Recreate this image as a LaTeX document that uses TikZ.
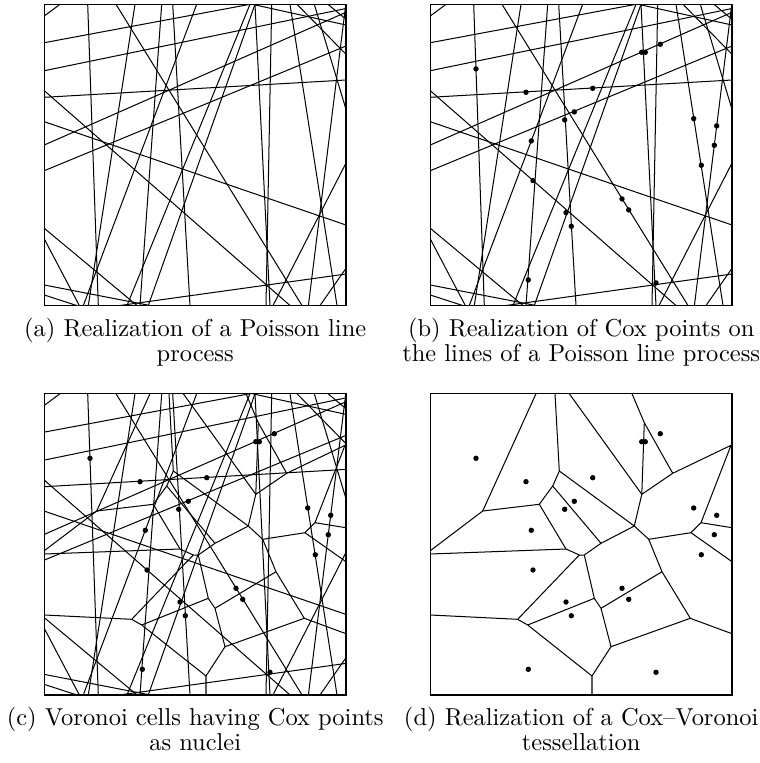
\documentclass[tikz,border=0pt]{standalone}
\begin{document}
\begin{tikzpicture}[x=0.4444pt,y=-0.4444pt,
  pl/.style={line width=0.45pt},
  vo/.style={line width=0.45pt,line join=round},
  frame/.style={line width=0.6pt},
  cox/.style={fill=black},
  captxt/.style={inner sep=0pt,anchor=base,font=\fontsize{10.87}{11.1}\selectfont}]
\useasboundingbox (0,0) rectangle (760,763);
\newcommand\plinesX{%
  \draw[pl] (0,11.7)--(15.7,0);
  \draw[pl] (43.4,0)--(54,301.2);
  \draw[pl] (71.7,0)--(257.7,301.2);
  \draw[pl] (0,93)--(301.7,75.7);
  \draw[pl] (0,86.4)--(245.7,301.2);
  \draw[pl] (0,38.4)--(205.7,0);
  \draw[pl] (90.7,0)--(44,301.2);
  \draw[pl] (117.4,0)--(95.7,301.2);
  \draw[pl] (128.4,0)--(145.7,301.2);
  \draw[pl] (0,166.4)--(301.7,41.7);
  \draw[pl] (152.4,0)--(39,301.2);
  \draw[pl] (210.7,0)--(104,301.2);
  \draw[pl] (205.7,0)--(82.7,301.2);
  \draw[pl] (75.7,301.2)--(301.7,269.7);
  \draw[pl] (0,280.7)--(105.7,301.2);
  \draw[pl] (0,290.7)--(32.4,301.2);
  \draw[pl] (0,224)--(92.7,301.2);
  \draw[pl] (0,234.7)--(35,301.2);
  \draw[pl] (0,117.4)--(301.7,220.7);
  \draw[pl] (0,140.7)--(301.7,8);
  \draw[pl] (0,66.4)--(301.7,4.2);
  \draw[pl] (210.7,0)--(225.7,301.2);
  \draw[pl] (227.4,0)--(221.7,301.2);
  \draw[pl] (245.7,0)--(292.7,301.2);
  \draw[pl] (301.5,0)--(264.1,301.2);
  \draw[pl] (301.7,158.7)--(228.7,301.2);
  \draw[pl] (275.7,301.2)--(301.7,264);
  \draw[pl] (208,0)--(301.7,20.7);
  \draw[pl] (252.7,0)--(301.7,50);
  \draw[pl] (270,0)--(301.7,105);
  \draw[pl] (283.7,0)--(301.7,15);
}
\newcommand\voronoiX{%
  \draw[vo] (105.7,0)--(52.4,117.3)--(0,157);
  \draw[vo] (52.4,117.3)--(109,110.6);
  \draw[vo] (124.7,0)--(129,77.3)--(122.4,92.3)--(109,110.6)--(135.7,155.3);
  \draw[vo] (129,77.3)--(204,132.3);
  \draw[vo] (122.4,92.3)--(170.7,149.6);
  \draw[vo] (0,160.3)--(135.7,155.3)--(149,161.3)--(154,161.3)--(170.7,149.6)--(204,132.3);
  \draw[vo] (149,161.3)--(87.4,225.6)--(97.4,231.3);
  \draw[vo] (0,221.3)--(87.4,225.6);
  \draw[vo] (154,161.3)--(164,204.6)--(170.7,214.6)--(180.7,253)--(161.7,282.3)--(161.7,302);
  \draw[vo] (97.4,231.3)--(164,204.6);
  \draw[vo] (97.4,231.3)--(161.7,282.3);
  \draw[vo] (170.7,214.6)--(231.7,178)--(218.4,145.6)--(204,132.3);
  \draw[vo] (180.7,253)--(260,224.6)--(231.7,178);
  \draw[vo] (260,224.6)--(301.7,240);
  \draw[vo] (218.4,145.6)--(260.7,139)--(301.7,168);
  \draw[vo] (260.7,139)--(270.7,129)--(301.7,134);
  \draw[vo] (270.7,129)--(300.7,51.6)--(242.4,79.6)--(214,29)--(201.7,0);
  \draw[vo] (214,29)--(211.5,100.6)--(242.4,79.6);
  \draw[vo] (139,0)--(211.5,100.6)--(204,132.3);
}
\newcommand\coxpointsX{%
  \foreach \p in {(45.7,64.6),(95.7,88),(144,107.6),(134.4,115.6),(101,136.6),
    (230,40),(211.4,48),(215,48),(162.4,84),(263.4,114.3),(286.4,121.6),
    (284,141),(102.7,176.3),(135.7,208.3),(141,222),(98,275.6),(271,161),
    (191.7,194.6),(198.4,205.6),(225.7,278.6)}
    {\fill[cox] \p circle[radius=2.7];}
}
% panel (a)
\begin{scope}[shift={(44.3,4.3)}]
  \begin{scope}\clip (0,0) rectangle (301.7,301.2); \plinesX \end{scope}
  \draw[frame] (0,0) rectangle (301.7,301.2);
\end{scope}
% panel (b)
\begin{scope}[shift={(430.3,4.3)}]
  \begin{scope}\clip (0,0) rectangle (301.7,301.2); \plinesX \end{scope}
  \coxpointsX
  \draw[frame] (0,0) rectangle (301.7,301.2);
\end{scope}
% panel (c)
\begin{scope}[shift={(44.3,393.7)}]
  \begin{scope}\clip (0,0) rectangle (301.7,301.2); \plinesX \voronoiX \end{scope}
  \coxpointsX
  \draw[frame] (0,0) rectangle (301.7,301.2);
\end{scope}
% panel (d)
\begin{scope}[shift={(430.3,393.7)}]
  \begin{scope}\clip (0,0) rectangle (301.7,301.2); \voronoiX \end{scope}
  \coxpointsX
  \draw[frame] (0,0) rectangle (301.7,301.2);
\end{scope}
\node[captxt] (capa1) at (195.2,336) {(a) Realization of a Poisson line};
\node[captxt] (capa2) at (195.2,361) {process};
\node[captxt] (capb1) at (581.2,336) {(b) Realization of Cox points on};
\node[captxt] (capb2) at (581.2,361) {the lines of a Poisson line process};
\node[captxt] (capc1) at (195.2,725.4) {(c) Voronoi cells having Cox points};
\node[captxt] (capc2) at (195.2,750.4) {as nuclei};
\node[captxt] (capd1) at (581.2,725.4) {(d) Realization of a Cox--Voronoi};
\node[captxt] (capd2) at (581.2,750.4) {tessellation};
\end{tikzpicture}
\end{document}
